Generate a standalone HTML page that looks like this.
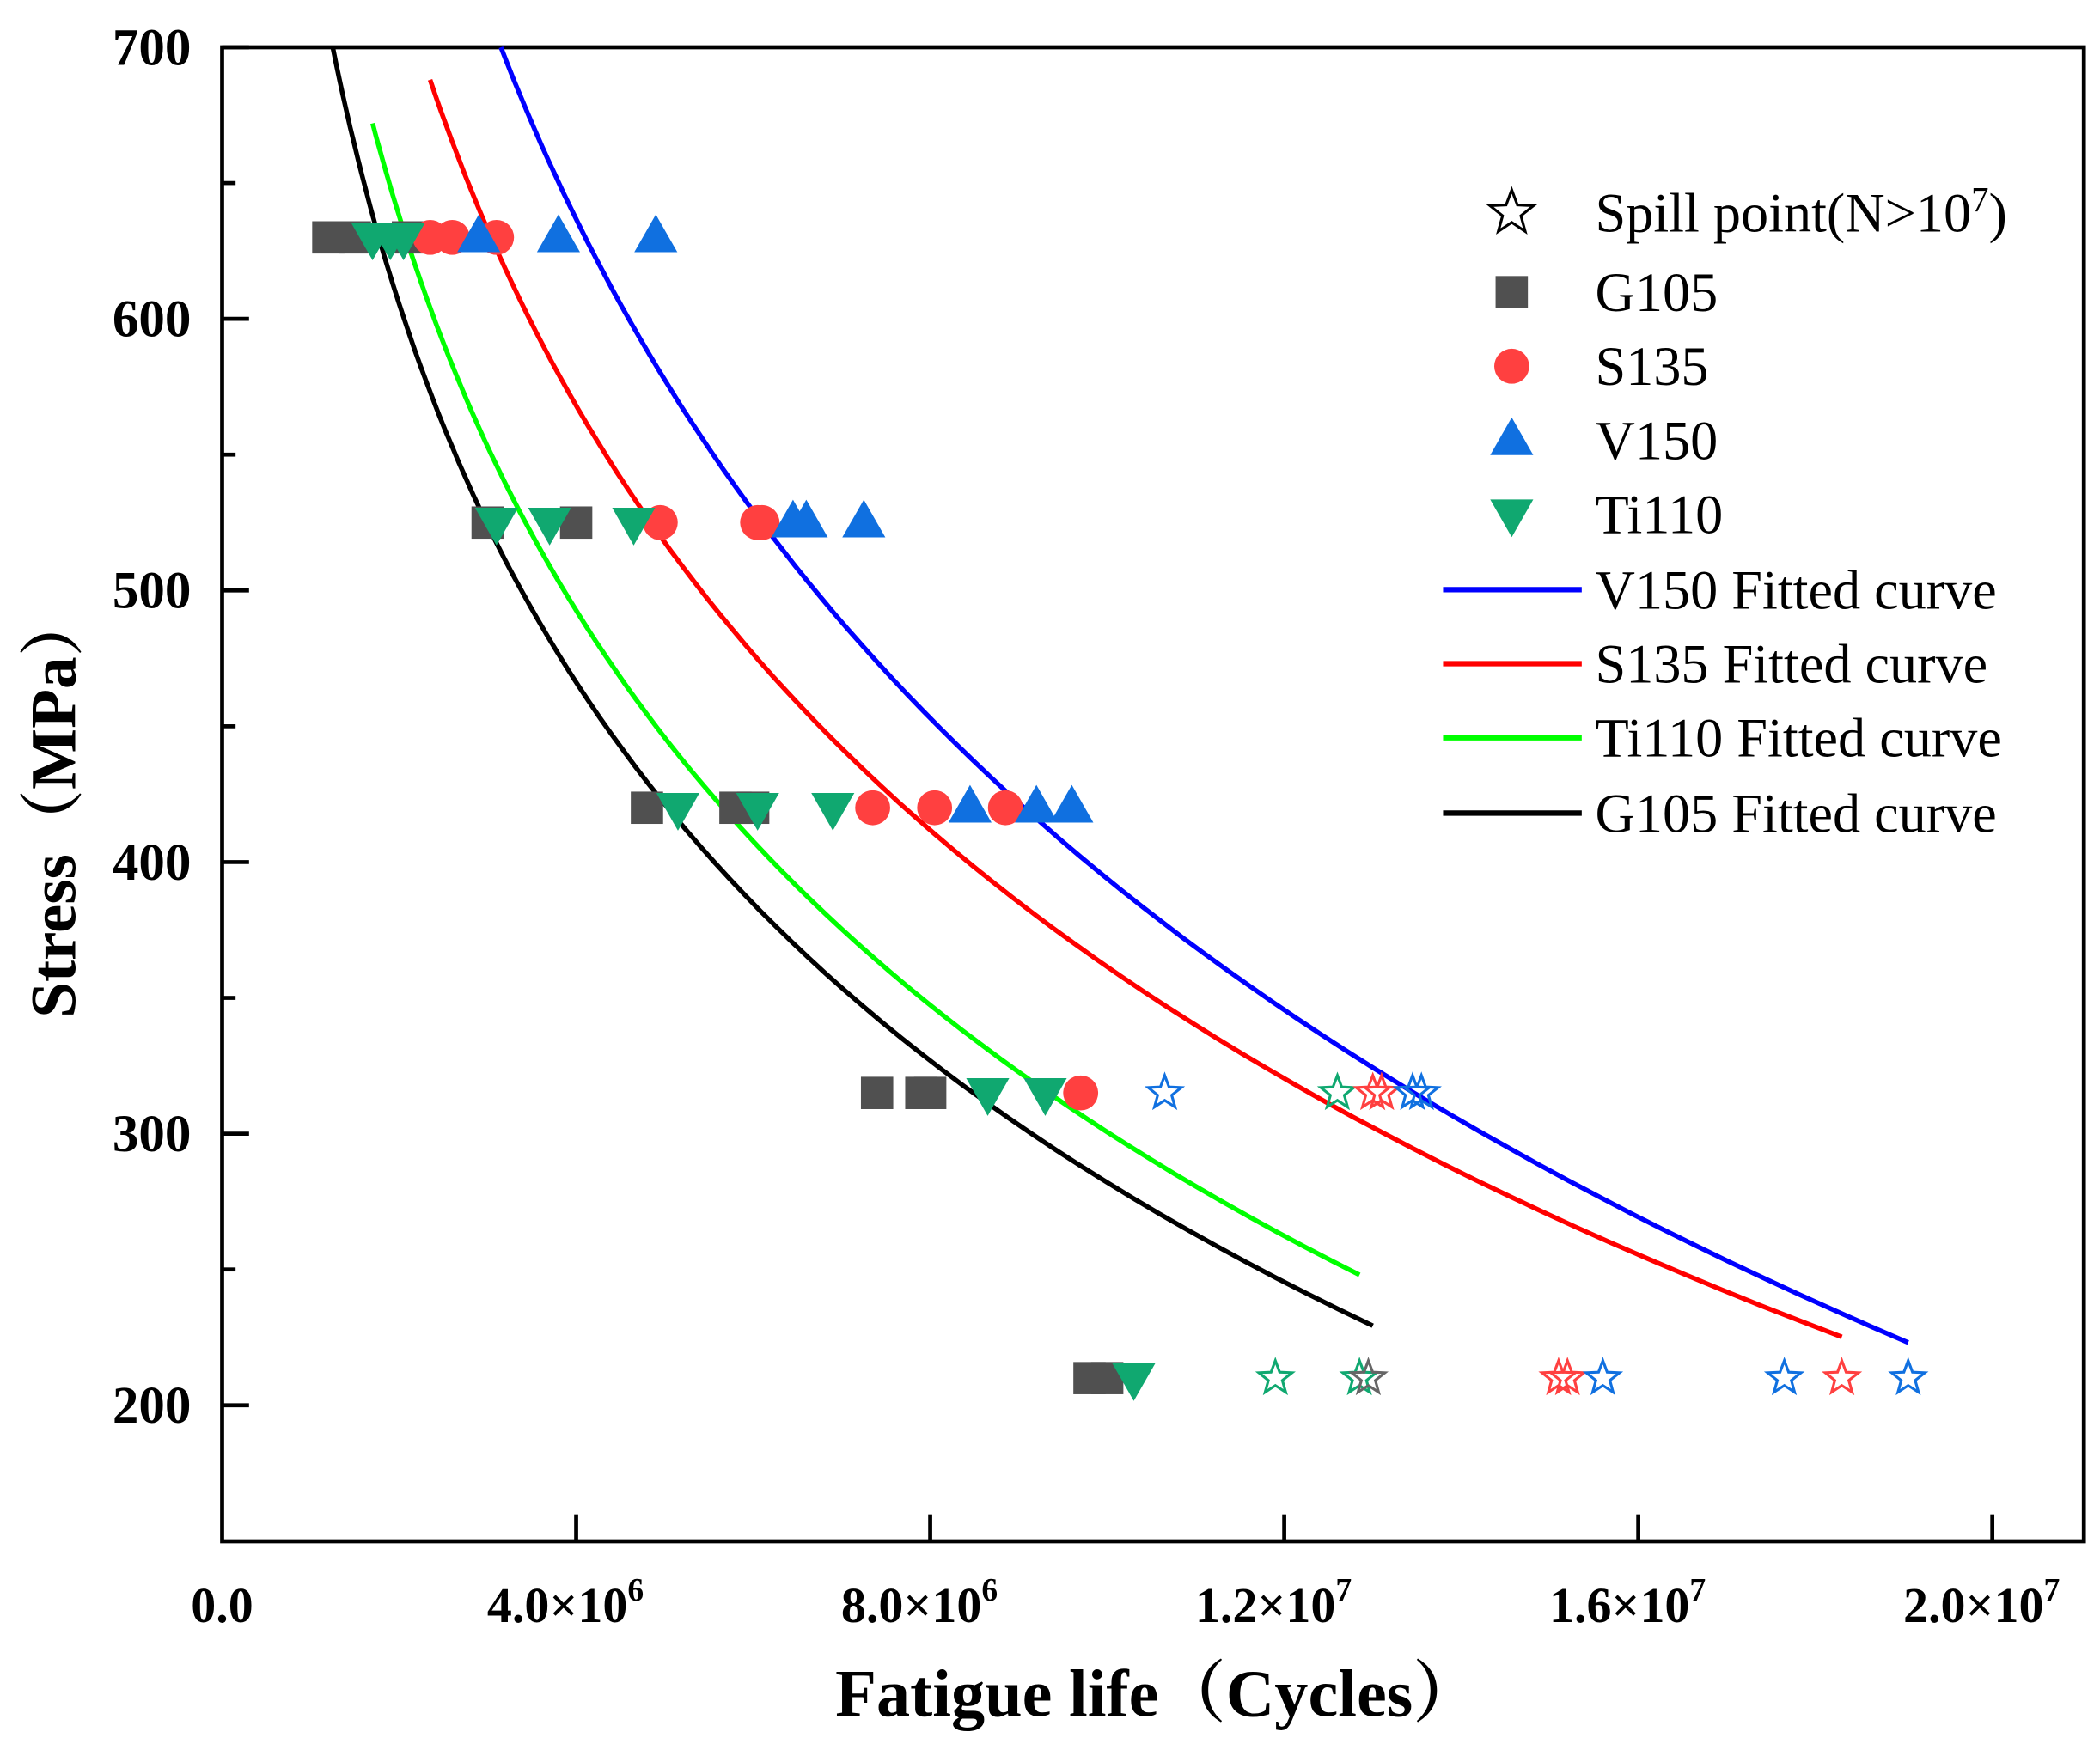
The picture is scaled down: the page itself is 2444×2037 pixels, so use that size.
<!DOCTYPE html>
<html><head><meta charset="utf-8"><style>
html,body{margin:0;padding:0;background:#fff;}
svg{display:block;font-family:"Liberation Serif","Noto Serif CJK SC",serif;}
</style></head><body>
<svg id="chart" width="2444" height="2037" viewBox="0 0 1560 1300" xmlns="http://www.w3.org/2000/svg">
<g id="plot"></g>
</svg>
<script>
const xTicks=[0,4e6,8e6,1.2e7,1.6e7,2.0e7];
const xTickLabels=["0.0","4.0×10","8.0×10","1.2×10","1.6×10","2.0×10"];
const xTickExp=["","6","6","7","7","7"];
const yTicks=[200,300,400,500,600,700];
const yMinor=[250,350,450,550,650];
const g105N=[1.2e6,1.5e6,2.1e6,3.0e6,4.0e6,4.8e6,5.8e6,6.0e6,7.4e6,7.9e6,8.0e6,9.8e6,10.0e6];
const g105S=[630,630,630,525,525,420,420,420,315,315,315,210,210];
const s135N=[2.35e6,2.6e6,3.1e6,4.95e6,6.05e6,6.1e6,7.35e6,8.05e6,8.85e6,9.7e6];
const s135S=[630,630,630,525,525,525,420,420,420,315];
const v150N=[2.9e6,3.8e6,4.9e6,6.45e6,6.6e6,7.25e6,8.45e6,9.2e6,9.6e6];
const v150S=[630,630,630,525,525,525,420,420,420];
const ti110N=[1.7e6,1.9e6,2.05e6,3.1e6,3.7e6,4.65e6,5.15e6,6.05e6,6.9e6,8.65e6,9.3e6,10.3e6];
const ti110S=[630,630,630,525,525,525,420,420,420,315,315,210];
const starN=[10.65e6,12.6e6,13.0e6,13.1e6,13.45e6,13.55e6,11.9e6,12.85e6,12.95e6,15.1e6,15.2e6,15.6e6,17.65e6,18.3e6,19.05e6];
const starS=[315,315,315,315,315,315,210,210,210,210,210,210,210,210,210];
const starC=["#1070e0","#10a870","#ff4040","#ff4040","#1070e0","#1070e0","#10a870","#10a870","#666","#ff4040","#ff4040","#1070e0","#1070e0","#ff4040","#1070e0"];
// fitted curves S = a - b*ln(N/N0) from Nstart to Nend
const curveNames=["v150-fitted-curve","s135-fitted-curve","ti110-fitted-curve","g105-fitted-curve"];
const curveColors=["#0000ff","#ff0000","#00ff00","#000000"];
const curveA=[700,688,672,700];
const curveB=[265,225.5,209.6,201];
const curveNstart=[3.15e6,2.35e6,1.7e6,1.25e6];
const curveNend=[19.05e6,18.3e6,12.85e6,13.0e6];

const NS="http://www.w3.org/2000/svg";
const L=165,R=1548,T=35,B=1145;
const X=v=>165+v*(1480-165)/2e7;
const Y=v=>35+(700-v)*(1044-35)/500;
const plot=document.getElementById('plot');
function mk(tag,attrs,parent){const e=document.createElementNS(NS,tag);for(const k in attrs)e.setAttribute(k,attrs[k]);(parent||plot).appendChild(e);return e;}

let fr=mk('rect',{x:L,y:T,width:R-L,height:B-T,fill:'none',stroke:'#000','stroke-width':3});



yTicks.forEach(v=>{
 let t=mk('line',{x1:L,x2:L+20,y1:Y(v),y2:Y(v),stroke:'#000','stroke-width':3});
 
 
 let tx=mk('text',{x:142,y:Y(v)+13,'text-anchor':'end','font-size':39,'font-weight':'bold'});
 tx.textContent=v;
 
 
});
yMinor.forEach(v=>{
 let t=mk('line',{x1:L,x2:L+10,y1:Y(v),y2:Y(v),stroke:'#000','stroke-width':3});
 
 
});
xTicks.forEach((v,i)=>{
 if(i>0){let t=mk('line',{x1:X(v),x2:X(v),y1:B,y2:B-20,stroke:'#000','stroke-width':3});
 
 }
 let tx=mk('text',{x:X(v)-(i?8:0),y:1205,'text-anchor':'middle','font-size':37,'font-weight':'bold'});
 tx.textContent=xTickLabels[i];
 if(xTickExp[i]){let s=mk('tspan',{dy:-16,'font-size':24},tx);s.textContent=xTickExp[i];}
 
 
});

curveNames.forEach((nm,i)=>{
 let d='';const n=80;
 for(let k=0;k<=n;k++){const N=curveNstart[i]*Math.pow(curveNend[i]/curveNstart[i],k/n);
  const S=curveA[i]-curveB[i]*Math.log(N/curveNstart[i]);
  d+=(k?'L':'M')+X(N).toFixed(1)+','+Y(S).toFixed(1);}
 let p=mk('path',{d:d,fill:'none',stroke:curveColors[i],'stroke-width':3.5});
 
 
});

function square(x,y,c,name){let e=mk('rect',{x:x-12,y:y-12,width:24,height:24,fill:c});}
function circle(x,y,c,name){let e=mk('circle',{cx:x,cy:y,r:13,fill:c});}
function tri(x,y,c,name){let e=mk('polygon',{points:`${x},${y-17} ${x+16},${y+11} ${x-16},${y+11}`,fill:c});}
function dtri(x,y,c,name){let e=mk('polygon',{points:`${x-16},${y-11} ${x+16},${y-11} ${x},${y+17}`,fill:c});}
function star(x,y,c,name,r){r=r||13;let pts=[];for(let k=0;k<10;k++){const a=-Math.PI/2+k*Math.PI/5;const rr=k%2?r*0.42:r;pts.push((x+rr*Math.cos(a)).toFixed(1)+','+(y+rr*Math.sin(a)).toFixed(1));}
 let e=mk('polygon',{points:pts.join(' '),fill:'none',stroke:c,'stroke-width':2});}

g105N.forEach((n,i)=>square(X(n),Y(g105S[i]),'#505050','g105-point'));
s135N.forEach((n,i)=>circle(X(n),Y(s135S[i]),'#ff4040','s135-point'));
v150N.forEach((n,i)=>tri(X(n),Y(v150S[i]),'#1070e0','v150-point'));
ti110N.forEach((n,i)=>dtri(X(n),Y(ti110S[i]),'#10a870','ti110-point'));
starN.forEach((n,i)=>star(X(n),Y(starS[i]),starC[i],'spill-point'));

const lg=mk('g',{});


function ltext(y,str,sup){let t=mk('text',{x:1185,y:y+14,'font-size':41},lg);t.textContent=str;if(sup){let s=mk('tspan',{dy:-15,'font-size':26},t);s.textContent=sup;let s2=mk('tspan',{dy:15},t);s2.textContent=')';}}
star(1123,158,'#000','legend-spill-marker',17);ltext(158,'Spill point(N>10','7');
square(1123,217,'#505050','legend-g105-marker');ltext(217,'G105');
circle(1123,272,'#ff4040','legend-s135-marker');ltext(272,'S135');
tri(1123,327,'#1070e0','legend-v150-marker');ltext(327,'V150');
dtri(1123,382,'#10a870','legend-ti110-marker');ltext(382,'Ti110');
const lgN=['V150 Fitted curve','S135 Fitted curve','Ti110 Fitted curve','G105 Fitted curve'];
[438,493,548,604].forEach((y,i)=>{let l=mk('line',{x1:1072,x2:1175,y1:y,y2:y,stroke:curveColors[i],'stroke-width':4},lg);
 
 
 ltext(y,lgN[i]);});

let xt=mk('text',{x:860,y:1275,'text-anchor':'middle','font-size':50,'font-weight':'bold'});
xt.textContent='Fatigue life（Cycles）';


let yt=mk('text',{x:0,y:0,'text-anchor':'middle','font-size':48,'font-weight':'bold',transform:'translate(56,598) rotate(-90)'});
yt.textContent='Stress（MPa）';


</script>
</body></html>
